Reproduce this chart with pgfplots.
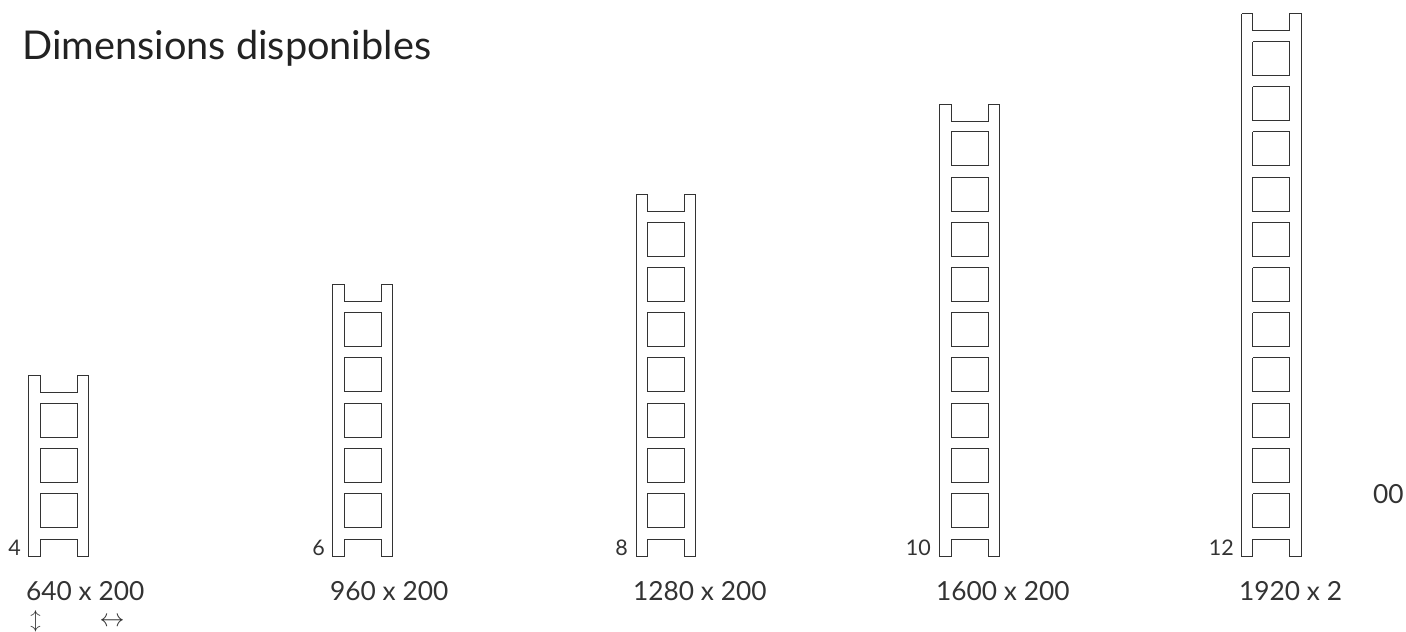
\documentclass[border=0pt]{standalone}
\usepackage{pgfplots}
\pgfplotsset{compat=1.18}
\usepackage{fontspec}
\setmainfont{Lato}
\definecolor{ink}{HTML}{333333}
\definecolor{head}{HTML}{222222}
\newcommand{\lad}[1]{\addplot[ink,line width=1pt,line join=miter,no markers,unbounded coords=jump] coordinates {#1};}
\begin{document}
\begin{tikzpicture}
\begin{axis}[hide axis,scale only axis,width=1406pt,height=632pt,xmin=0,xmax=1406,ymin=0,ymax=632,y dir=reverse,clip=false]
\path (axis cs:0,0) -- (axis cs:1406,632);
% ladder 4
\lad{(28.5,375)(40,375)(40,392)(77,392)(77,375)(88,375)(88,556)(77,556)(77,539)(40,539)(40,556)(28.5,556)(28.5,375)(nan,nan)
(40,403.1)(77,403.1)(77,437.1)(40,437.1)(40,403.1)(nan,nan)
(40,448.3)(77,448.3)(77,482.3)(40,482.3)(40,448.3)(nan,nan)
(40,493.5)(77,493.5)(77,527.5)(40,527.5)(40,493.5)}
% ladder 6
\lad{(332.5,284.3)(344,284.3)(344,301.3)(381,301.3)(381,284.3)(392.3,284.3)(392.3,556)(381,556)(381,539)(344,539)(344,556)(332.5,556)(332.5,284.3)(nan,nan)
(344,312.7)(381,312.7)(381,346.7)(344,346.7)(344,312.7)(nan,nan)
(344,357.9)(381,357.9)(381,391.9)(344,391.9)(344,357.9)(nan,nan)
(344,403.1)(381,403.1)(381,437.1)(344,437.1)(344,403.1)(nan,nan)
(344,448.3)(381,448.3)(381,482.3)(344,482.3)(344,448.3)(nan,nan)
(344,493.5)(381,493.5)(381,527.5)(344,527.5)(344,493.5)}
% ladder 8
\lad{(636,194)(647,194)(647,211)(684,211)(684,194)(695.5,194)(695.5,556)(684,556)(684,539)(647,539)(647,556)(636,556)(636,194)(nan,nan)
(647,222.3)(684,222.3)(684,256.3)(647,256.3)(647,222.3)(nan,nan)
(647,267.5)(684,267.5)(684,301.5)(647,301.5)(647,267.5)(nan,nan)
(647,312.7)(684,312.7)(684,346.7)(647,346.7)(647,312.7)(nan,nan)
(647,357.9)(684,357.9)(684,391.9)(647,391.9)(647,357.9)(nan,nan)
(647,403.1)(684,403.1)(684,437.1)(647,437.1)(647,403.1)(nan,nan)
(647,448.3)(684,448.3)(684,482.3)(647,482.3)(647,448.3)(nan,nan)
(647,493.5)(684,493.5)(684,527.5)(647,527.5)(647,493.5)}
% ladder 10
\lad{(939,104)(951,104)(951,121)(988,121)(988,104)(999,104)(999,556)(988,556)(988,539)(951,539)(951,556)(939,556)(939,104)(nan,nan)
(951,131.9)(988,131.9)(988,165.9)(951,165.9)(951,131.9)(nan,nan)
(951,177.1)(988,177.1)(988,211.1)(951,211.1)(951,177.1)(nan,nan)
(951,222.3)(988,222.3)(988,256.3)(951,256.3)(951,222.3)(nan,nan)
(951,267.5)(988,267.5)(988,301.5)(951,301.5)(951,267.5)(nan,nan)
(951,312.7)(988,312.7)(988,346.7)(951,346.7)(951,312.7)(nan,nan)
(951,357.9)(988,357.9)(988,391.9)(951,391.9)(951,357.9)(nan,nan)
(951,403.1)(988,403.1)(988,437.1)(951,437.1)(951,403.1)(nan,nan)
(951,448.3)(988,448.3)(988,482.3)(951,482.3)(951,448.3)(nan,nan)
(951,493.5)(988,493.5)(988,527.5)(951,527.5)(951,493.5)}
% ladder 12
\lad{(1241.7,13.5)(1252.5,13.5)(1252.5,30.5)(1289.5,30.5)(1289.5,13.5)(1301,13.5)(1301,556)(1289.5,556)(1289.5,539)(1252.5,539)(1252.5,556)(1241.7,556)(1241.7,13.5)(nan,nan)
(1252.5,41.5)(1289.5,41.5)(1289.5,75.5)(1252.5,75.5)(1252.5,41.5)(nan,nan)
(1252.5,86.7)(1289.5,86.7)(1289.5,120.7)(1252.5,120.7)(1252.5,86.7)(nan,nan)
(1252.5,131.9)(1289.5,131.9)(1289.5,165.9)(1252.5,165.9)(1252.5,131.9)(nan,nan)
(1252.5,177.1)(1289.5,177.1)(1289.5,211.1)(1252.5,211.1)(1252.5,177.1)(nan,nan)
(1252.5,222.3)(1289.5,222.3)(1289.5,256.3)(1252.5,256.3)(1252.5,222.3)(nan,nan)
(1252.5,267.5)(1289.5,267.5)(1289.5,301.5)(1252.5,301.5)(1252.5,267.5)(nan,nan)
(1252.5,312.7)(1289.5,312.7)(1289.5,346.7)(1252.5,346.7)(1252.5,312.7)(nan,nan)
(1252.5,357.9)(1289.5,357.9)(1289.5,391.9)(1252.5,391.9)(1252.5,357.9)(nan,nan)
(1252.5,403.1)(1289.5,403.1)(1289.5,437.1)(1252.5,437.1)(1252.5,403.1)(nan,nan)
(1252.5,448.3)(1289.5,448.3)(1289.5,482.3)(1252.5,482.3)(1252.5,448.3)(nan,nan)
(1252.5,493.5)(1289.5,493.5)(1289.5,527.5)(1252.5,527.5)(1252.5,493.5)}
\tikzset{t/.style={text=ink,inner sep=0pt,anchor=base west,font=\fontsize{26.3}{28}\selectfont},
 n/.style={text=ink,inner sep=0pt,anchor=base east,font=\fontsize{21.5}{24}\selectfont}}
\node[text=head,inner sep=0pt,anchor=base west,font=\fontsize{39.7}{44}\selectfont] at (axis cs:22,59.5) {Dimensions disponibles};
\node[n] at (axis cs:21,555) {4};
\node[n] at (axis cs:325,555) {6};
\node[n] at (axis cs:628,555) {8};
\node[n] at (axis cs:931,555) {10};
\node[n] at (axis cs:1234,555) {12};
\node[t] at (axis cs:26,600) {640 x 200};
\node[t] at (axis cs:330,600) {960 x 200};
\node[t] at (axis cs:633,600) {1280 x 200};
\node[t] at (axis cs:936,600) {1600 x 200};
\node[t] at (axis cs:1239,600) {1920 x 2};
\node[t] at (axis cs:1373,503) {00};
\node[text=ink,inner sep=0pt,anchor=center,font=\fontsize{21}{24}\selectfont] at (axis cs:35.5,621) {$\updownarrow$};
\node[text=ink,inner sep=0pt,anchor=center,font=\fontsize{26}{28}\selectfont] at (axis cs:112,621.5) {$\leftrightarrow$};
\end{axis}
\end{tikzpicture}
\end{document}
